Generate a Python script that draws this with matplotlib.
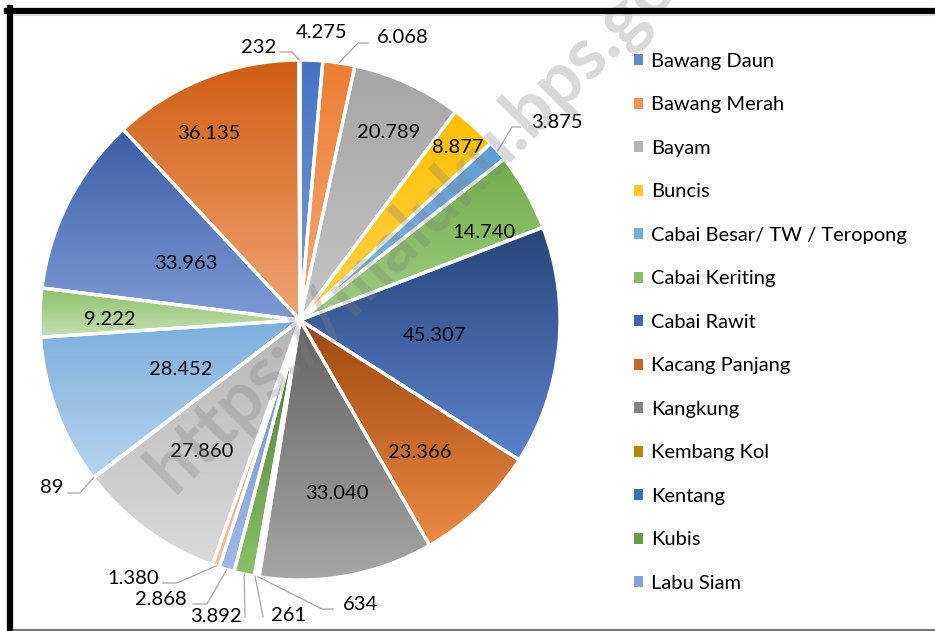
import numpy as np
import matplotlib
matplotlib.use("Agg")
import matplotlib.pyplot as plt
from matplotlib.colors import to_rgb
from matplotlib.lines import Line2D
from matplotlib.patches import Patch

plt.rcParams["font.family"] = ["Lato", "DejaVu Sans"]

# slices clockwise from 12 o'clock (only the first 13 appear in the legend)
legend_names = [
    "Bawang Daun", "Bawang Merah", "Bayam", "Buncis",
    "Cabai Besar/ TW / Teropong", "Cabai Keriting", "Cabai Rawit",
    "Kacang Panjang", "Kangkung", "Kembang Kol", "Kentang", "Kubis",
    "Labu Siam",
]
values = [4275, 6068, 20789, 8877, 3875, 14740, 45307, 23366, 33040, 634,
          261, 3892, 2868, 1380, 27860, 89, 28452, 9222, 33963, 36135, 232]

# gradient fill, top -> bottom of each slice
top_colors = ["#4472C4", "#ED7D31", "#A5A5A5", "#FFC000", "#5B9BD5", "#70AD47",
              "#28457A", "#9E480E", "#636363", "#997300", "#255E91", "#4A7530",
              "#698ED0", "#F1975A", "#B7B7B7", "#FFCD33", "#7CAFDD", "#8CC168",
              "#3A5EA5", "#D05E12", "#7C7C7C"]
bottom_colors = ["#7F9FD9", "#F4AB7E", "#C5C5C5", "#FFD24D", "#8EBDE6", "#A2CD86",
                 "#5B84CC", "#EC8A45", "#A6A6A6", "#C99A10", "#4F86C0", "#8CC168",
                 "#A2B8E6", "#F8BE95", "#DADADA", "#FFDD80", "#B6D4EE", "#C6E0B4",
                 "#7E9BD6", "#F0A574", "#9A9A9A"]

W, H = 935, 631
CX, CY, R = 300, 320, 260


def to_data(px, py):
    return (px - CX) / R, (CY - py) / R


# label centres, in pixels of the picture
label_px = [(322, 31), (403, 36), (389, 131), (458, 146), (557, 121), (484, 231),
            (434, 334), (420, 451), (337, 492), (360, 603), (289, 614), (216, 615),
            (161, 598), (133, 577), (202, 450), (52, 486), (181, 368), (110, 318),
            (186, 262), (209, 132), (259, 46)]
# leader lines: slice -> bend points after the anchor on the rim
leaders = {
    20: [(292, 52), (280, 52)],
    1: [(358, 43), (368, 43)],
    4: [(512, 127), (520, 127)],
    9: [(322, 609), (333, 609)],
    10: [(263, 617)],
    11: [(245, 617)],
    12: [(207, 604), (193, 604)],
    13: [(177, 583), (163, 583)],
    15: [(80, 493), (68, 493)],
}

fig = plt.figure(figsize=(W / 100, H / 100), dpi=100)
ax = fig.add_axes([(CX - R) / W, (H - CY - R) / H, 2 * R / W, 2 * R / H])

wedges, _ = ax.pie(values, startangle=90, counterclock=False, radius=1,
                   colors=top_colors,
                   wedgeprops=dict(edgecolor="white", linewidth=2.4))

t = np.linspace(0, 1, 256)[:, None]
for w, c0, c1 in zip(wedges, top_colors, bottom_colors):
    ext = w.get_path().get_extents()
    grad = (1 - t) * np.array(to_rgb(c0)) + t * np.array(to_rgb(c1))
    im = ax.imshow(grad[:, None, :], extent=(ext.x0, ext.x1, ext.y0, ext.y1),
                   origin="upper", aspect="auto", zorder=1, interpolation="bilinear")
    im.set_clip_path(w)
    w.set_facecolor("none")
    w.set_zorder(2)

ax.set_xlim(-1, 1)
ax.set_ylim(-1, 1)
ax.set_aspect("equal")
ax.axis("off")

for i, (v, (px, py)) in enumerate(zip(values, label_px)):
    txt = f"{v:,}".replace(",", ".")
    x, y = to_data(px, py + 7)
    ax.text(x, y, txt, ha="center", va="baseline", fontsize=14.5, zorder=4)
    if i in leaders:
        w = wedges[i]
        mid = np.deg2rad((w.theta1 + w.theta2) / 2)
        xs = [np.cos(mid)]
        ys = [np.sin(mid)]
        for bx, by in leaders[i]:
            dx, dy = to_data(bx, by)
            xs.append(dx)
            ys.append(dy)
        ax.plot(xs, ys, color="#A6A6A6", lw=0.9, clip_on=False, zorder=3)

# watermark (runs off the top edge, as in the source)
ax.text(0.535, 0.458, "https://maluku.bps.go.id", rotation=45, rotation_mode="anchor",
        ha="center", va="center", fontsize=52, fontweight="bold",
        color="gray", alpha=0.3, zorder=5)

handles = [Patch(facecolor=0.5 * (np.array(to_rgb(a)) + np.array(to_rgb(b))))
           for a, b in zip(top_colors[:13], bottom_colors[:13])]
fig.legend(handles, legend_names, loc="upper left",
           bbox_to_anchor=(634 / W, 1 - 53 / H), frameon=False, fontsize=14.5,
           handlelength=0.45, handleheight=0.45, handletextpad=0.4,
           labelspacing=1.315, borderpad=0, borderaxespad=0)

# chart frame
fig.add_artist(Line2D([7 / W, 1], [1 - 11 / H] * 2, color="black", lw=4.5,
                      transform=fig.transFigure))
fig.add_artist(Line2D([13 / W, 1], [1 - 14.5 / H] * 2, color="#D9D9D9", lw=0.8,
                      transform=fig.transFigure))
fig.add_artist(Line2D([10 / W] * 2, [0, 1 - 8 / H], color="black", lw=4.5,
                      transform=fig.transFigure))
fig.add_artist(Line2D([13 / W, 1], [1.5 / H] * 2, color="#595959", lw=1.2,
                      transform=fig.transFigure))

fig.savefig("out.png", dpi=100)
